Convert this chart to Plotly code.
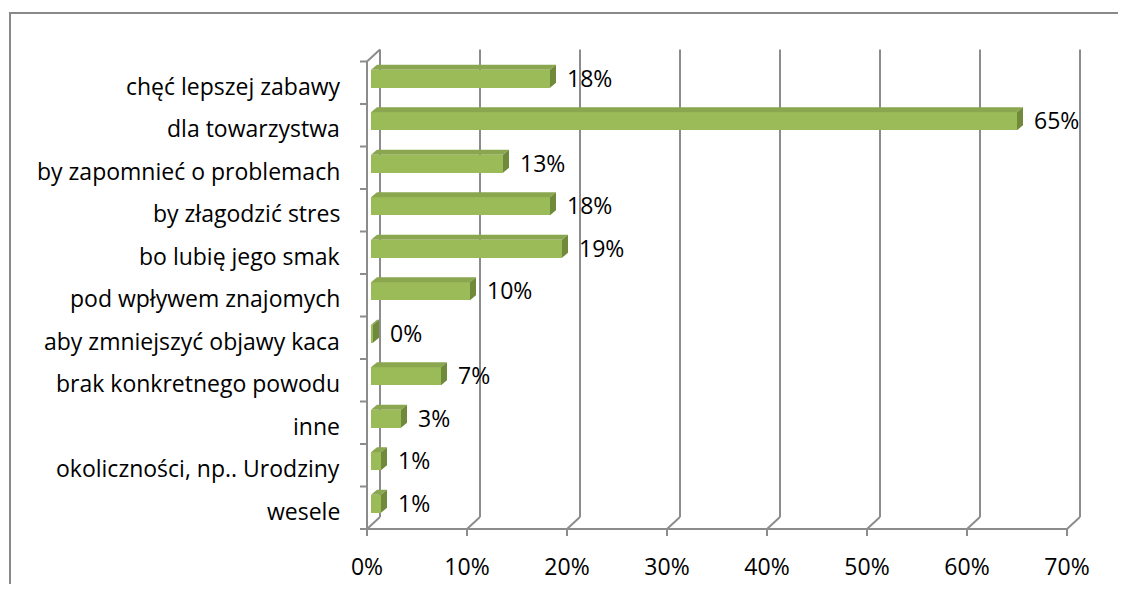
import plotly.graph_objects as go

# ---- data ----
categories = [
    "chęć lepszej zabawy",
    "dla towarzystwa",
    "by zapomnieć o problemach",
    "by złagodzić stres",
    "bo lubię jego smak",
    "pod wpływem znajomych",
    "aby zmniejszyć objawy kaca",
    "brak konkretnego powodu",
    "inne",
    "okoliczności, np.. Urodziny",
    "wesele",
]
values = [17.9, 64.6, 13.2, 17.9, 19.1, 9.9, 0.2, 7.0, 3.0, 1.0, 1.0]
x_ticks = [0, 10, 20, 30, 40, 50, 60, 70]
x_ticktext = [f"{t}%" for t in x_ticks]

# ---- geometry (window pixels) ----
W, H = 1126, 592
OFF = 8                            # browser body margin
FIG_W = W - 2 * OFF
FIG_H = H - 2 * OFF
ORIGIN_X, ORIGIN_Y = 367, 529      # front-plane origin (0%, bottom boundary)
PX_PCT = 10.0                      # pixels per 1 %
PX_CAT = 42.5                      # pixels per category
PLOT_L, PLOT_R, PLOT_T, PLOT_B = 355, 1090, 40, 545
n = len(categories)

def xd(px):
    return (px - ORIGIN_X) / PX_PCT

def yd(py):
    return (n - 0.5) - (ORIGIN_Y - py) / PX_CAT

x_range = [xd(PLOT_L), xd(PLOT_R)]
y_range = [yd(PLOT_B), yd(PLOT_T)]

WALL_DX = 13 / PX_PCT
WALL_DY = 12 / PX_CAT
BAR_BASE = 4 / PX_PCT
BAR_W = 18 / PX_CAT
BAR_SHIFT = -4 / PX_CAT
BAR_DX = 6 / PX_PCT
BAR_DY = 5 / PX_CAT

AX_COL = "#8C8C8C"
FRONT = "#9BBB59"
TOP = "#8AA64E"
SIDE = "#6F8A3A"
FONT = "Open Sans"
FS = 23

ys = list(range(n))

fig = go.Figure()
fig.add_trace(go.Bar(
    y=ys, x=values, base=BAR_BASE, orientation="h",
    width=BAR_W, offset=BAR_SHIFT - BAR_W / 2,
    marker=dict(color=FRONT, line=dict(width=0)),
    hoverinfo="skip", showlegend=False,
))

shapes = []
top_y = -0.5
bot_y = n - 0.5
max_x = x_ticks[-1]
# back wall gridlines and bottom connectors
for t in x_ticks:
    shapes.append(dict(type="line", xref="x", yref="y", layer="below",
                       x0=t + WALL_DX, x1=t + WALL_DX,
                       y0=top_y - WALL_DY, y1=bot_y - WALL_DY,
                       line=dict(color=AX_COL, width=2)))
    shapes.append(dict(type="line", xref="x", yref="y", layer="below",
                       x0=t, x1=t + WALL_DX, y0=bot_y, y1=bot_y - WALL_DY,
                       line=dict(color=AX_COL, width=2)))
    # x ticks
    shapes.append(dict(type="line", xref="x", yref="y", layer="below",
                       x0=t, x1=t, y0=bot_y, y1=bot_y + 7 / PX_CAT,
                       line=dict(color=AX_COL, width=2)))
# top-left connector
shapes.append(dict(type="line", xref="x", yref="y", layer="below",
                   x0=0, x1=WALL_DX, y0=top_y, y1=top_y - WALL_DY,
                   line=dict(color=AX_COL, width=2)))
# front axes
shapes.append(dict(type="line", xref="x", yref="y", layer="below",
                   x0=0, x1=0, y0=top_y, y1=bot_y,
                   line=dict(color=AX_COL, width=2)))
shapes.append(dict(type="line", xref="x", yref="y", layer="below",
                   x0=0, x1=max_x, y0=bot_y, y1=bot_y,
                   line=dict(color=AX_COL, width=2)))
# y ticks at category boundaries
for j in range(n + 1):
    b = j - 0.5
    shapes.append(dict(type="line", xref="x", yref="y", layer="below",
                       x0=-7 / PX_PCT, x1=0, y0=b, y1=b,
                       line=dict(color=AX_COL, width=2)))

# bar top & side faces
for i, v in enumerate(values):
    x0 = BAR_BASE
    x1 = BAR_BASE + v
    yt = i + BAR_SHIFT - BAR_W / 2
    yb = yt + BAR_W
    shapes.append(dict(type="path", xref="x", yref="y", layer="above",
                       path=f"M {x0},{yt} L {x1},{yt} L {x1 + BAR_DX},{yt - BAR_DY} L {x0 + BAR_DX},{yt - BAR_DY} Z",
                       fillcolor=TOP, line=dict(width=0)))
    shapes.append(dict(type="path", xref="x", yref="y", layer="above",
                       path=f"M {x1},{yt} L {x1},{yb} L {x1 + BAR_DX},{yb - BAR_DY} L {x1 + BAR_DX},{yt - BAR_DY} Z",
                       fillcolor=SIDE, line=dict(width=0)))

# outer chart border (left and top), kept inside the figure
pw = PLOT_R - PLOT_L
ph = PLOT_B - PLOT_T
def xp(px):
    return (px - PLOT_L) / pw
def yp(py):
    return (PLOT_B - py) / ph
fig_right = OFF + FIG_W
fig_bottom = OFF + FIG_H
shapes.append(dict(type="path", xref="paper", yref="paper",
                   path=(f"M {xp(10)},{yp(fig_bottom)} L {xp(10)},{yp(13)} "
                         f"L {xp(fig_right)},{yp(13)}"),
                   line=dict(color="#898989", width=2)))

annotations = []
# category labels
for i, c in enumerate(categories):
    annotations.append(dict(x=xd(PLOT_L), y=i, xref="x", yref="y",
                            text=c, showarrow=False,
                            xanchor="right", yanchor="middle",
                            xshift=-13, yshift=-3,
                            font=dict(family=FONT, size=FS, color="#000000")))
# value labels
for i, v in enumerate(values):
    annotations.append(dict(x=v + 1.9, y=i, xref="x", yref="y",
                            text=f"{round(v)}%", showarrow=False,
                            xanchor="left", yanchor="middle", yshift=5,
                            font=dict(family=FONT, size=FS, color="#000000")))

fig.update_layout(
    width=FIG_W, height=FIG_H,
    margin=dict(l=PLOT_L - OFF, r=OFF + FIG_W - PLOT_R, t=PLOT_T - OFF,
                b=OFF + FIG_H - PLOT_B, pad=0, autoexpand=False),
    paper_bgcolor="white", plot_bgcolor="rgba(0,0,0,0)",
    shapes=shapes, annotations=annotations,
    bargap=0, showlegend=False,
    font=dict(family=FONT, size=FS, color="#000000"),
    xaxis=dict(range=x_range, tickvals=x_ticks, ticktext=x_ticktext,
               showgrid=False, zeroline=False, showline=False, ticks="",
               ticklabelstandoff=6, automargin=False, fixedrange=True),
    yaxis=dict(range=y_range, showgrid=False, zeroline=False, showline=False,
               ticks="", showticklabels=False, automargin=False, fixedrange=True),
)

fig.write_html("out.html", config={"displayModeBar": False})
